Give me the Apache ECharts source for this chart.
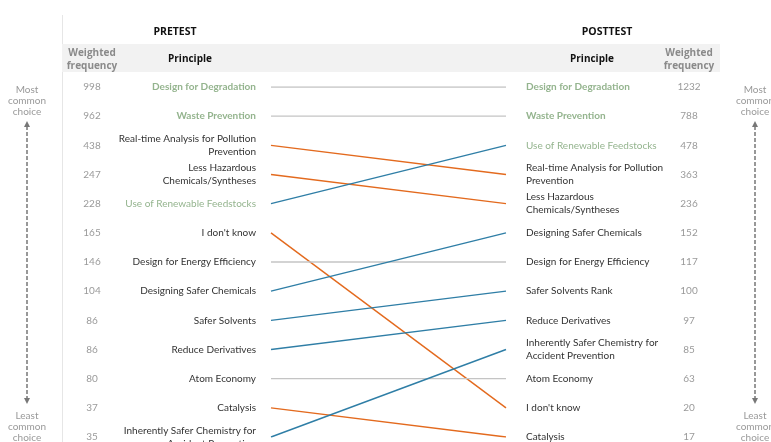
<!DOCTYPE html>
<html><head><meta charset="utf-8">
<script src="https://cdn.jsdelivr.net/npm/echarts@6/dist/echarts.min.js"></script>
<style>html,body{margin:0;padding:0;background:#fff}#c{width:771px;height:442px}</style>
</head><body><div id="c"></div>
<script>
const preLabels = ["Design for Degradation","Waste Prevention","Real-time Analysis for Pollution\nPrevention","Less Hazardous\nChemicals/Syntheses","Use of Renewable Feedstocks","I don't know","Design for Energy Efficiency","Designing Safer Chemicals","Safer Solvents","Reduce Derivatives","Atom Economy","Catalysis","Inherently Safer Chemistry for\nAccident Prevention"];
const preValues = [998,962,438,247,228,165,146,104,86,86,80,37,35];
const postLabels = ["Design for Degradation","Waste Prevention","Use of Renewable Feedstocks","Real-time Analysis for Pollution\nPrevention","Less Hazardous\nChemicals/Syntheses","Designing Safer Chemicals","Design for Energy Efficiency","Safer Solvents Rank","Reduce Derivatives","Inherently Safer Chemistry for\nAccident Prevention","Atom Economy","I don't know","Catalysis"];
const postValues = [1232,788,478,363,236,152,117,100,97,85,63,20,17];
const greenBold = ["Design for Degradation","Waste Prevention"];
const greenPlain = ["Use of Renewable Feedstocks"];
const FONT = "Lato";
const C_UP = "#2f7ea6", C_DOWN = "#e36a1e", C_SAME = "#c4c4c4", C_GREEN = "#94b48e";

const key = s => s.replace(" Rank","");
const series = preLabels.map((lab, i) => {
  const j = postLabels.findIndex(p => key(p) === lab);
  const col = j < i ? C_UP : (j > i ? C_DOWN : C_SAME);
  return {type:'line', yAxisIndex:0, symbol:'none', silent:true, animation:false,
    lineStyle:{color:col, width:1.4}, data:[[0, i+1],[1, j+1]]};
});
function principleFmt(v){
  if (greenBold.includes(v)) return '{gb|'+v+'}';
  if (greenPlain.includes(v)) return '{g|'+v+'}';
  return '{k|'+v+'}';
}
const rich = {
  gb:{color:C_GREEN, fontWeight:'bold', fontSize:10, fontFamily:FONT, lineHeight:13},
  g:{color:C_GREEN, fontSize:10, fontFamily:FONT, lineHeight:13},
  k:{color:'#333', fontSize:10, fontFamily:FONT, lineHeight:13}
};
const catBase = {type:'category', inverse:true, boundaryGap:false, gridIndex:0,
  axisLine:{show:false}, axisTick:{show:false}, splitLine:{show:false}};
const chart = echarts.init(document.getElementById('c'), null, {renderer:'canvas'});
const arrowStyle = {stroke:'#777', lineWidth:1.5, lineDash:[4,2]};
const headFont = 'bold 10px "Open Sans"';
chart.setOption({
  animation:false,
  grid:{left:271, right:265, top:87, bottom:5, containLabel:false, outerBoundsMode:'none'},
  xAxis:{type:'value', min:0, max:1, show:false},
  yAxis:[
    {type:'value', min:1, max:13, inverse:true, show:false},
    Object.assign({}, catBase, {position:'left', data:preLabels,
      axisLabel:{interval:0, margin:15, formatter:principleFmt, rich:rich}}),
    Object.assign({}, catBase, {position:'left', offset:179, data:preValues.map(String),
      axisLabel:{interval:0, margin:0, align:'center', color:'#9a9a9a', fontSize:10, fontFamily:FONT}}),
    Object.assign({}, catBase, {position:'right', data:postLabels,
      axisLabel:{interval:0, margin:20, align:'left', formatter:principleFmt, rich:rich}}),
    Object.assign({}, catBase, {position:'right', offset:183, data:postValues.map(String),
      axisLabel:{interval:0, margin:0, align:'center', color:'#9a9a9a', fontSize:10, fontFamily:FONT}})
  ],
  series: series,
  graphic:[
    {type:'line', z:-1, shape:{x1:62.5,y1:15,x2:62.5,y2:442}, style:{stroke:'#e6e6e6', lineWidth:1}},
    {type:'rect', z:-1, shape:{x:62, y:44, width:658, height:28}, style:{fill:'#f2f2f2'}},
    {type:'text', x:175, y:32, style:{text:'PRETEST', font:'bold 10.5px "Open Sans"', fill:'#111', align:'center', verticalAlign:'middle'}},
    {type:'text', x:607, y:32, style:{text:'POSTTEST', font:'bold 10.5px "Open Sans"', fill:'#111', align:'center', verticalAlign:'middle'}},
    {type:'text', x:92, y:60, style:{text:'Weighted\nfrequency', font:headFont, lineHeight:13, fill:'#8a8a8a', align:'center', verticalAlign:'middle'}},
    {type:'text', x:190, y:59, style:{text:'Principle', font:headFont, fill:'#111', align:'center', verticalAlign:'middle'}},
    {type:'text', x:592, y:59, style:{text:'Principle', font:headFont, fill:'#111', align:'center', verticalAlign:'middle'}},
    {type:'text', x:689, y:60, style:{text:'Weighted\nfrequency', font:headFont, lineHeight:13, fill:'#8a8a8a', align:'center', verticalAlign:'middle'}},
    {type:'text', x:27, y:101, style:{text:'Most\ncommon\nchoice', font:'10px '+FONT, lineHeight:11, fill:'#999', align:'center', verticalAlign:'middle'}},
    {type:'text', x:27, y:427, style:{text:'Least\ncommon\nchoice', font:'10px '+FONT, lineHeight:11, fill:'#999', align:'center', verticalAlign:'middle'}},
    {type:'text', x:755, y:101, style:{text:'Most\ncommon\nchoice', font:'10px '+FONT, lineHeight:11, fill:'#999', align:'center', verticalAlign:'middle'}},
    {type:'text', x:755, y:427, style:{text:'Least\ncommon\nchoice', font:'10px '+FONT, lineHeight:11, fill:'#999', align:'center', verticalAlign:'middle'}},
    {type:'line', shape:{x1:27,y1:126,x2:27,y2:399}, style:arrowStyle},
    {type:'polygon', shape:{points:[[24,127],[30,127],[27,121]]}, style:{fill:'#777'}},
    {type:'polygon', shape:{points:[[24,398],[30,398],[27,404]]}, style:{fill:'#777'}},
    {type:'line', shape:{x1:755,y1:126,x2:755,y2:399}, style:arrowStyle},
    {type:'polygon', shape:{points:[[752,127],[758,127],[755,121]]}, style:{fill:'#777'}},
    {type:'polygon', shape:{points:[[752,398],[758,398],[755,404]]}, style:{fill:'#777'}}
  ]
});
</script></body></html>
